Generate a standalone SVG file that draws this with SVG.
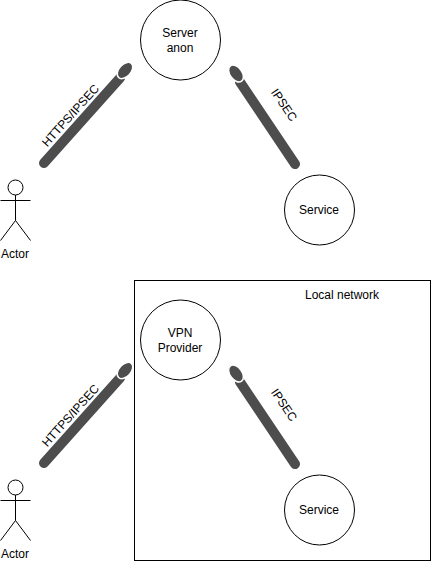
<svg xmlns="http://www.w3.org/2000/svg" width="431" height="562" viewBox="0 0 431 562">
<style>
text{font-family:"Liberation Sans",Arial,sans-serif;font-size:12px;fill:#000;text-anchor:middle}
.n{fill:#fff;stroke:#000;stroke-width:1}
.a{fill:none;stroke:#000;stroke-width:1}
.l{fill:none;stroke:#4d4d4d;stroke-width:10;stroke-linecap:round}
.e{fill:#4d4d4d;stroke:#fff;stroke-width:1.5}
</style>
<defs>
<g id="actor"><circle class="a" cx="15.500" cy="187.500" r="7.500"/><path class="a" d="M15.500 195V220.500M0.500 200.500H30.500M0.500 240.500L15.500 220.500L30.500 240.500"/></g>
</defs>
<rect id="local-network" x="134.500" y="280.500" width="296" height="280" fill="#fff" stroke="#000"/>
<text x="342" y="299">Local network</text>
<g id="connectors">
<path class="l" d="M44 163L120 78"/><ellipse class="e" cx="125" cy="70.500" rx="6" ry="9.500" transform="rotate(42 125 70.500)"/>
<path class="l" d="M295 164L240 82"/><ellipse class="e" cx="236" cy="73.500" rx="6" ry="9.500" transform="rotate(-36 236 73.500)"/>
<path class="l" d="M44 463L120 378"/><ellipse class="e" cx="125" cy="370.500" rx="6" ry="9.500" transform="rotate(42 125 370.500)"/>
<path class="l" d="M295 464L240 382"/><ellipse class="e" cx="236" cy="373.500" rx="6" ry="9.500" transform="rotate(-36 236 373.500)"/>
</g>
<text x="70.500" y="119.500" transform="rotate(-48 70.500 115.500)">HTTPS/IPSEC</text>
<text x="284" y="109" transform="rotate(56 284 105)">IPSEC</text>
<text x="70.500" y="419.500" transform="rotate(-48 70.500 415.500)">HTTPS/IPSEC</text>
<text x="284" y="409" transform="rotate(56 284 405)">IPSEC</text>
<g id="server-anon"><circle class="n" cx="180.500" cy="40" r="40"/><text x="180" y="37">Server</text><text x="180" y="52">anon</text></g>
<g id="service-1"><circle class="n" cx="319.500" cy="210" r="35"/><text x="319" y="214">Service</text></g>
<g id="actor-1"><use href="#actor"/><text x="15" y="258">Actor</text></g>
<g id="vpn-provider"><circle class="n" cx="180.500" cy="340" r="40"/><text x="180" y="337">VPN</text><text x="180" y="352">Provider</text></g>
<g id="service-2"><circle class="n" cx="319.500" cy="510" r="35"/><text x="319" y="514">Service</text></g>
<g id="actor-2"><use href="#actor" y="300"/><text x="15" y="558">Actor</text></g>
</svg>
